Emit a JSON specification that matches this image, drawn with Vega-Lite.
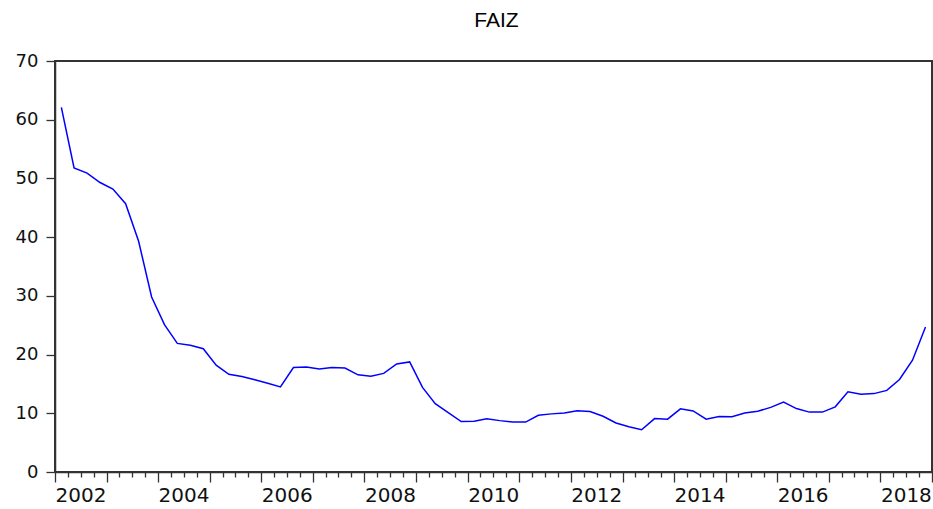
{
  "$schema": "https://vega.github.io/schema/vega-lite/v6.json",
  "width": 877,
  "height": 411,
  "autosize": "none",
  "padding": {"left": 55, "top": 61, "right": 1, "bottom": 37},
  "background": "white",
  "title": {"text": "FAIZ", "font": "Liberation Sans", "fontSize": 21, "fontWeight": "normal", "color": "#000", "anchor": "middle", "offset": 21, "dx": 3},
  "config": {
    "view": {"stroke": "#333", "strokeWidth": 2},
    "axis": {"grid": false, "domainColor": "#333", "domainWidth": 1.5, "tickColor": "#333", "tickWidth": 1.3, "labelColor": "#111", "labelFont": "DejaVu Sans", "title": null}
  },
  "data": {"values": [
    {"date": "2002-02-15", "faiz": 62.1},
    {"date": "2002-05-16", "faiz": 51.8},
    {"date": "2002-08-16", "faiz": 50.9},
    {"date": "2002-11-16", "faiz": 49.3},
    {"date": "2003-02-15", "faiz": 48.2},
    {"date": "2003-05-16", "faiz": 45.7},
    {"date": "2003-08-16", "faiz": 39.3},
    {"date": "2003-11-16", "faiz": 29.8},
    {"date": "2004-02-15", "faiz": 25.1},
    {"date": "2004-05-16", "faiz": 21.9},
    {"date": "2004-08-16", "faiz": 21.6},
    {"date": "2004-11-16", "faiz": 21.0},
    {"date": "2005-02-15", "faiz": 18.2},
    {"date": "2005-05-16", "faiz": 16.65},
    {"date": "2005-08-16", "faiz": 16.25},
    {"date": "2005-11-16", "faiz": 15.7},
    {"date": "2006-02-15", "faiz": 15.1},
    {"date": "2006-05-16", "faiz": 14.5},
    {"date": "2006-08-16", "faiz": 17.8},
    {"date": "2006-11-16", "faiz": 17.9},
    {"date": "2007-02-15", "faiz": 17.55},
    {"date": "2007-05-16", "faiz": 17.8},
    {"date": "2007-08-16", "faiz": 17.7},
    {"date": "2007-11-16", "faiz": 16.55},
    {"date": "2008-02-15", "faiz": 16.3},
    {"date": "2008-05-16", "faiz": 16.8},
    {"date": "2008-08-16", "faiz": 18.4},
    {"date": "2008-11-16", "faiz": 18.75},
    {"date": "2009-02-15", "faiz": 14.4},
    {"date": "2009-05-16", "faiz": 11.65},
    {"date": "2009-08-16", "faiz": 10.1},
    {"date": "2009-11-16", "faiz": 8.6},
    {"date": "2010-02-15", "faiz": 8.65},
    {"date": "2010-05-16", "faiz": 9.05},
    {"date": "2010-08-16", "faiz": 8.75},
    {"date": "2010-11-16", "faiz": 8.5},
    {"date": "2011-02-15", "faiz": 8.5},
    {"date": "2011-05-16", "faiz": 9.65},
    {"date": "2011-08-16", "faiz": 9.9},
    {"date": "2011-11-16", "faiz": 10.05},
    {"date": "2012-02-15", "faiz": 10.45},
    {"date": "2012-05-16", "faiz": 10.3},
    {"date": "2012-08-16", "faiz": 9.5},
    {"date": "2012-11-16", "faiz": 8.35},
    {"date": "2013-02-15", "faiz": 7.7},
    {"date": "2013-05-16", "faiz": 7.2},
    {"date": "2013-08-16", "faiz": 9.1},
    {"date": "2013-11-16", "faiz": 9.0},
    {"date": "2014-02-15", "faiz": 10.75},
    {"date": "2014-05-16", "faiz": 10.4},
    {"date": "2014-08-16", "faiz": 9.0},
    {"date": "2014-11-16", "faiz": 9.45},
    {"date": "2015-02-15", "faiz": 9.4},
    {"date": "2015-05-16", "faiz": 10.05},
    {"date": "2015-08-16", "faiz": 10.35},
    {"date": "2015-11-16", "faiz": 11.0},
    {"date": "2016-02-15", "faiz": 11.9},
    {"date": "2016-05-16", "faiz": 10.8},
    {"date": "2016-08-16", "faiz": 10.2},
    {"date": "2016-11-16", "faiz": 10.2},
    {"date": "2017-02-15", "faiz": 11.1},
    {"date": "2017-05-16", "faiz": 13.65},
    {"date": "2017-08-16", "faiz": 13.25},
    {"date": "2017-11-16", "faiz": 13.35},
    {"date": "2018-02-15", "faiz": 13.9},
    {"date": "2018-05-16", "faiz": 15.75},
    {"date": "2018-08-16", "faiz": 19.05},
    {"date": "2018-11-16", "faiz": 24.7}
  ]},
  "mark": {"type": "line", "color": "#0000FF", "strokeWidth": 1.5},
  "encoding": {
    "x": {
      "field": "date",
      "type": "temporal",
      "scale": {"type": "utc", "domain": [{"year": 2002, "month": 1, "date": 1, "utc": true}, {"year": 2019, "month": 1, "date": 1, "utc": true}], "nice": false},
      "axis": {
        "tickCount": {"interval": "month", "step": 3},
        "tickSize": {"condition": {"test": "utcmonth(datum.value) == 0", "value": 10}, "value": 5},
        "labelExpr": "utcmonth(datum.value) == 0 && utcyear(datum.value) % 2 == 0 ? utcFormat(datum.value, '%Y') : ''",
        "labelAlign": "left",
        "labelBaseline": "top",
        "labelPadding": 3,
        "labelFontSize": 20,
        "labelOverlap": false,
        "labelFlush": false
      }
    },
    "y": {
      "field": "faiz",
      "type": "quantitative",
      "scale": {"domain": [0, 70], "nice": false, "zero": true},
      "axis": {"values": [0, 10, 20, 30, 40, 50, 60, 70], "tickSize": 9, "labelPadding": 8, "labelFontSize": 18}
    }
  }
}
